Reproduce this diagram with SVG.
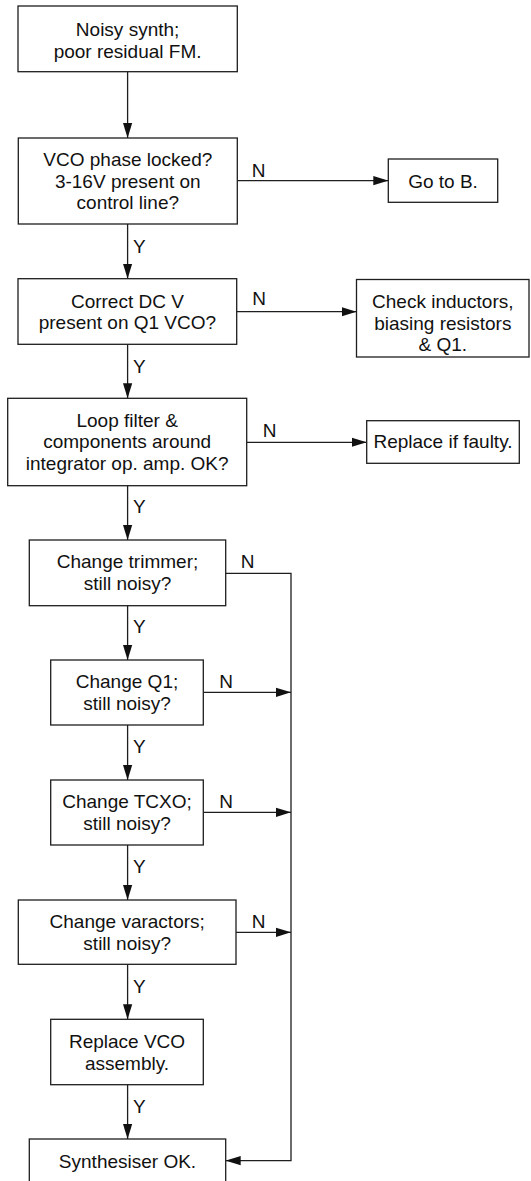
<svg xmlns="http://www.w3.org/2000/svg" width="531" height="1181" viewBox="0 0 531 1181">
  <style>
    .box { fill: #ffffff; stroke: #1e1e1e; stroke-width: 1.3; }
    .wire { fill: none; stroke: #1e1e1e; stroke-width: 1.3; }
    text { font-family: "Liberation Sans", Arial, sans-serif; font-size: 19px; fill: #111111; }
    .c { text-anchor: middle; }
  </style>
  <defs>
    <marker id="head" markerUnits="userSpaceOnUse" markerWidth="15" markerHeight="10" refX="15" refY="5" orient="auto">
      <path d="M0,0.4 L15,5 L0,9.6 z" fill="#111111"/>
    </marker>
  </defs>
  <rect width="531" height="1181" fill="#ffffff"/>

  <!-- connectors -->
  <g id="connectors">
    <line class="wire" x1="127.6" y1="72" x2="127.6" y2="138" marker-end="url(#head)"/>
    <line class="wire" x1="237.3" y1="180.7" x2="388.3" y2="180.7" marker-end="url(#head)"/>
    <line class="wire" x1="127.6" y1="224" x2="127.6" y2="278.7" marker-end="url(#head)"/>
    <line class="wire" x1="236.7" y1="311.7" x2="356.5" y2="311.7" marker-end="url(#head)"/>
    <line class="wire" x1="127.6" y1="344.3" x2="127.6" y2="398.3" marker-end="url(#head)"/>
    <line class="wire" x1="246.7" y1="442.3" x2="366.7" y2="442.3" marker-end="url(#head)"/>
    <line class="wire" x1="127.6" y1="485.7" x2="127.6" y2="540" marker-end="url(#head)"/>
    <polyline class="wire" points="225.7,573.3 291,573.3 291,1160.7 225.7,1160.7" marker-end="url(#head)"/>
    <line class="wire" x1="127.6" y1="605.7" x2="127.6" y2="660" marker-end="url(#head)"/>
    <line class="wire" x1="203.3" y1="692.3" x2="291" y2="692.3" marker-end="url(#head)"/>
    <line class="wire" x1="127.6" y1="725" x2="127.6" y2="780" marker-end="url(#head)"/>
    <line class="wire" x1="203.3" y1="812.3" x2="291" y2="812.3" marker-end="url(#head)"/>
    <line class="wire" x1="127.6" y1="845" x2="127.6" y2="900" marker-end="url(#head)"/>
    <line class="wire" x1="236" y1="932.3" x2="291" y2="932.3" marker-end="url(#head)"/>
    <line class="wire" x1="127.6" y1="964.3" x2="127.6" y2="1019.3" marker-end="url(#head)"/>
    <line class="wire" x1="127.6" y1="1084.7" x2="127.6" y2="1139" marker-end="url(#head)"/>

    <text x="251.7" y="176.7">N</text>
    <text x="133" y="252.5">Y</text>
    <text x="252.2" y="305">N</text>
    <text x="133" y="372.5">Y</text>
    <text x="262.8" y="436.7">N</text>
    <text x="133" y="513">Y</text>
    <text x="240.7" y="568.3">N</text>
    <text x="133" y="633">Y</text>
    <text x="219.3" y="688.3">N</text>
    <text x="133" y="753">Y</text>
    <text x="219.3" y="808.3">N</text>
    <text x="133" y="873">Y</text>
    <text x="251.7" y="928">N</text>
    <text x="133" y="993.3">Y</text>
    <text x="133" y="1113.3">Y</text>
  </g>

  <!-- nodes -->
  <g id="start">
    <rect class="box" x="18" y="6" width="219.3" height="65.7"/>
    <text class="c" x="127.6" y="35.5">Noisy synth;</text>
    <text class="c" x="127.6" y="57.5">poor residual FM.</text>
  </g>
  <g id="vco-locked">
    <rect class="box" x="18.3" y="138" width="219" height="86"/>
    <text class="c" x="127.8" y="166">VCO phase locked?</text>
    <text class="c" x="127.8" y="187.7">3-16V present on</text>
    <text class="c" x="127.8" y="209.3">control line?</text>
  </g>
  <g id="go-to-b">
    <rect class="box" x="388.3" y="159" width="109.4" height="43.3"/>
    <text class="c" x="443" y="187.7">Go to B.</text>
  </g>
  <g id="dc-check">
    <rect class="box" x="18" y="278.7" width="218.7" height="65.6"/>
    <text class="c" x="127.4" y="307.7">Correct DC V</text>
    <text class="c" x="127.4" y="329.3">present on Q1 VCO?</text>
  </g>
  <g id="check-inductors">
    <rect class="box" x="356.5" y="279.5" width="172.5" height="77.5"/>
    <text class="c" x="442.8" y="307.5">Check inductors,</text>
    <text class="c" x="442.8" y="329.5">biasing resistors</text>
    <text class="c" x="442.8" y="351.3">&amp; Q1.</text>
  </g>
  <g id="loop-filter">
    <rect class="box" x="7.7" y="398.3" width="239" height="87.4"/>
    <text class="c" x="127.2" y="426.7">Loop filter &amp;</text>
    <text class="c" x="127.2" y="448.3">components around</text>
    <text class="c" x="127.2" y="470">integrator op. amp. OK?</text>
  </g>
  <g id="replace-faulty">
    <rect class="box" x="366.7" y="420.7" width="152.6" height="42.6"/>
    <text class="c" x="443" y="448.3">Replace if faulty.</text>
  </g>
  <g id="change-trimmer">
    <rect class="box" x="29.3" y="540" width="196.4" height="65.7"/>
    <text class="c" x="127.5" y="568.3">Change trimmer;</text>
    <text class="c" x="127.5" y="590">still noisy?</text>
  </g>
  <g id="change-q1">
    <rect class="box" x="50.7" y="660" width="152.6" height="65"/>
    <text class="c" x="127" y="688.3">Change Q1;</text>
    <text class="c" x="127" y="710">still noisy?</text>
  </g>
  <g id="change-tcxo">
    <rect class="box" x="50.7" y="780" width="152.6" height="65"/>
    <text class="c" x="127" y="808.3">Change TCXO;</text>
    <text class="c" x="127" y="830">still noisy?</text>
  </g>
  <g id="change-varactors">
    <rect class="box" x="18.3" y="900" width="217.7" height="64.3"/>
    <text class="c" x="127.2" y="928.3">Change varactors;</text>
    <text class="c" x="127.2" y="950">still noisy?</text>
  </g>
  <g id="replace-vco">
    <rect class="box" x="50.7" y="1019.3" width="152.6" height="65.4"/>
    <text class="c" x="127" y="1048.3">Replace VCO</text>
    <text class="c" x="127" y="1070">assembly.</text>
  </g>
  <g id="synth-ok">
    <rect class="box" x="29.3" y="1139" width="196.4" height="60"/>
    <text class="c" x="127.5" y="1168.3">Synthesiser OK.</text>
  </g>
</svg>
